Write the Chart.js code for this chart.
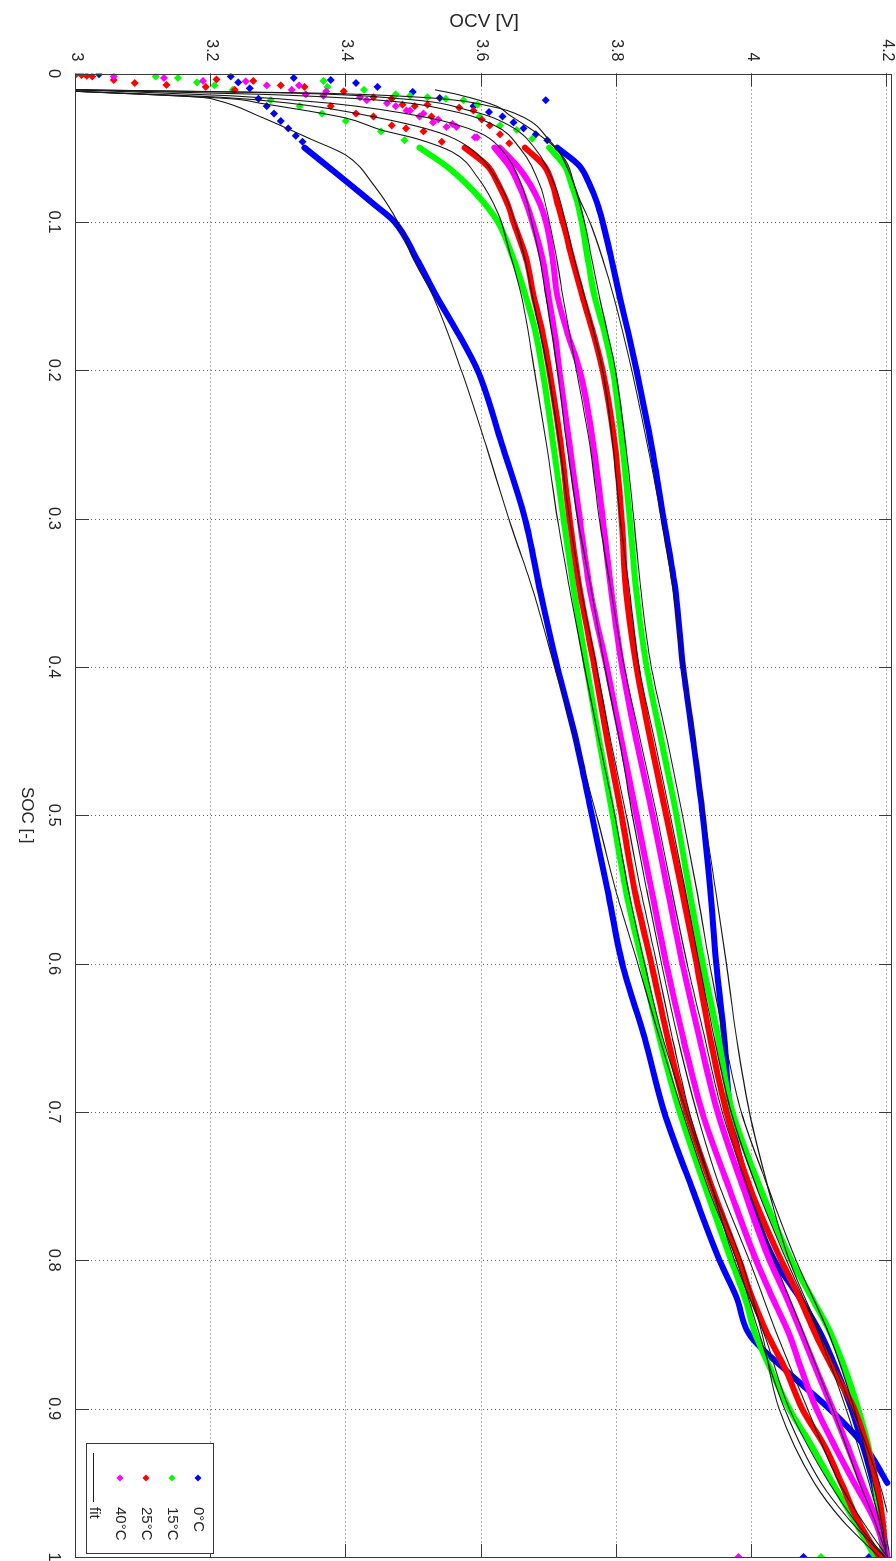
<!DOCTYPE html>
<html>
<head>
<meta charset="utf-8">
<title>OCV vs SOC</title>
<script src="https://cdn.jsdelivr.net/npm/chart.js@4.4.1/dist/chart.umd.min.js"></script>
<style>
  html, body { margin: 0; padding: 0; background: #fff; overflow: hidden; }
  #page { position: relative; width: 896px; height: 1561px; overflow: hidden; background: #fff; }
  /* the figure is drawn landscape (SOC along x) and turned a quarter clockwise */
  #ocvChart { position: absolute; left: 0; top: 0; transform-origin: 0 0; transform: translate(896px, 0) rotate(90deg); }
</style>
</head>
<body>
<div id="page"><canvas id="ocvChart" width="1561" height="896"></canvas></div>
<script>
// ---- axis ticks -----------------------------------------------------------
const socTicks = [0, 0.1, 0.2, 0.3, 0.4, 0.5, 0.6, 0.7, 0.8, 0.9, 1];
const ocvTicks = [3, 3.2, 3.4, 3.6, 3.8, 4, 4.2];

// ---- measured curves (dense part), common SOC grid -------------------------
const socGrid = [0.05, 0.0625, 0.075, 0.0875, 0.1, 0.125, 0.15, 0.175, 0.2, 0.25, 0.3, 0.35, 0.4, 0.45,
  0.5, 0.55, 0.6, 0.65, 0.7, 0.75, 0.8, 0.825, 0.85, 0.875, 0.9, 0.925, 0.95, 0.975, 1.0];

const ocv0Dis  = [3.338, 3.372, 3.406, 3.439, 3.471, 3.504, 3.533, 3.565, 3.594, 3.630, 3.664, 3.687, 3.712, 3.740,
  3.763, 3.786, 3.808, 3.841, 3.870, 3.910, 3.952, 3.977, 3.996, 4.052, 4.114, 4.166, 4.200, null, null];
const ocv0Chg  = [3.712, 3.745, 3.760, 3.771, 3.779, 3.792, 3.804, 3.817, 3.829, 3.851, 3.869, 3.887, 3.898, 3.913,
  3.927, 3.938, 3.947, 3.959, 3.968, 3.993, 4.033, 4.070, 4.102, 4.126, 4.147, 4.164, 4.179, 4.191, 4.200];
const ocv15Dis = [3.508, 3.548, 3.579, 3.604, 3.624, 3.647, 3.665, 3.680, 3.690, 3.706, 3.721, 3.737, 3.755, 3.774,
  3.794, 3.813, 3.838, 3.863, 3.893, 3.930, 3.969, 3.989, 4.005, 4.029, 4.055, 4.088, 4.119, 4.151, 4.182];
const ocv15Chg = [3.700, 3.723, 3.733, 3.742, 3.748, 3.757, 3.767, 3.782, 3.794, 3.808, 3.819, 3.829, 3.844, 3.866,
  3.888, 3.907, 3.927, 3.950, 3.971, 4.011, 4.058, 4.088, 4.117, 4.139, 4.157, 4.172, 4.182, 4.188, 4.194];
const ocv25Dis = [3.575, 3.609, 3.625, 3.638, 3.647, 3.666, 3.677, 3.690, 3.700, 3.717, 3.730, 3.746, 3.767, 3.786,
  3.807, 3.826, 3.851, 3.875, 3.903, 3.940, 3.981, 4.000, 4.023, 4.051, 4.074, 4.107, 4.132, 4.156, 4.188];
const ocv25Chg = [3.664, 3.693, 3.705, 3.712, 3.720, 3.734, 3.749, 3.765, 3.779, 3.797, 3.807, 3.814, 3.829, 3.850,
  3.873, 3.896, 3.918, 3.938, 3.962, 3.996, 4.043, 4.070, 4.094, 4.122, 4.151, 4.170, 4.184, 4.193, 4.197];
const ocv40Dis = [3.619, 3.641, 3.655, 3.666, 3.675, 3.690, 3.699, 3.708, 3.715, 3.730, 3.745, 3.761, 3.785, 3.807,
  3.829, 3.851, 3.873, 3.898, 3.926, 3.965, 4.006, 4.030, 4.055, 4.074, 4.095, 4.122, 4.151, 4.181, 4.200];
const ocv40Chg = [3.627, 3.653, 3.672, 3.686, 3.695, 3.705, 3.712, 3.727, 3.745, 3.765, 3.779, 3.792, 3.808, 3.829,
  3.853, 3.875, 3.897, 3.922, 3.949, 3.986, 4.026, 4.051, 4.074, 4.096, 4.119, 4.141, 4.162, 4.184, 4.200];

// ---- sparse markers near SOC 0 and the end points at SOC 1 ----------------
const soc0Pts  = [0.0005, 0.002, 0.006, 0.010, 0.017, 0.022, 0.027, 0.032, 0.037, 0.042, 0.046,
  0.003, 0.0044, 0.0064, 0.009, 0.0124, 0.0165, 0.018, 0.022, 0.026, 0.029, 0.033, 0.037, 0.041, 0.045, 1.0, 1.0];
const ocv0Pts  = [3.034, 3.229, 3.240, 3.257, 3.270, 3.282, 3.293, 3.303, 3.314, 3.325, 3.335,
  3.322, 3.377, 3.414, 3.446, 3.498, 3.538, 3.695, 3.588, 3.611, 3.631, 3.647, 3.662, 3.680, 3.697, 4.076, 4.173];
const soc15Pts = [0.002, 0.003, 0.006, 0.008, 0.011, 0.018, 0.022, 0.027, 0.032, 0.039, 0.045,
  0.005, 0.009, 0.011, 0.014, 0.015, 0.016, 0.017, 0.018, 0.021, 0.029, 0.035, 0.038, 0.044, 1.0];
const ocv15Pts = [3.118, 3.151, 3.179, 3.205, 3.232, 3.288, 3.331, 3.364, 3.399, 3.451, 3.486,
  3.366, 3.372, 3.426, 3.473, 3.494, 3.520, 3.547, 3.573, 3.594, 3.597, 3.627, 3.652, 3.675, 4.102];
const soc25Pts = [0.0005, 0.001, 0.0015, 0.002, 0.0044, 0.0064, 0.0077, 0.009, 0.011, 0.021, 0.022, 0.022, 0.027,
  0.029, 0.029, 0.035, 0.037, 0.039, 0.046,
  0.004, 0.005, 0.008, 0.009, 0.012, 0.016, 0.017, 0.021, 0.023, 0.025, 0.031, 0.035, 0.041, 0.047, 1.0];
const ocv25Pts = [3.000, 3.008, 3.016, 3.024, 3.056, 3.087, 3.134, 3.192, 3.235, 3.483, 3.501, 3.377, 3.414,
  3.440, 3.526, 3.467, 3.488, 3.514, 3.541,
  3.208, 3.262, 3.303, 3.338, 3.396, 3.440, 3.467, 3.520, 3.567, 3.588, 3.600, 3.612, 3.627, 3.641, 4.198];
const soc40Pts = [0.002, 0.003, 0.005, 0.0053, 0.008, 0.011, 0.014, 0.015, 0.018, 0.022, 0.025, 0.027, 0.031,
  0.034, 0.036, 0.043,
  0.008, 0.012, 0.016, 0.020, 0.025, 0.029, 0.033, 0.036, 0.043, 1.0];
const ocv40Pts = [3.056, 3.130, 3.188, 3.251, 3.282, 3.319, 3.340, 3.366, 3.430, 3.473, 3.494, 3.514, 3.536,
  3.557, 3.563, 3.593,
  3.330, 3.370, 3.420, 3.460, 3.489, 3.508, 3.528, 3.548, 3.590, 3.980];

// ---- fitted curves --------------------------------------------------------
const fitSoc0Dis = [0.012, 0.016, 0.018, 0.029, 0.044, 0.055, 0.075, 0.1, 0.125, 0.15, 0.2, 0.25, 0.3, 0.35,
  0.4, 0.45, 0.5, 0.55, 0.6, 0.65, 0.7, 0.75, 0.8, 0.85, 0.9, 0.95, 0.975, 1.0];
const fitOcv0Dis = [3.000, 3.183, 3.208, 3.272, 3.346, 3.399, 3.440, 3.476, 3.499, 3.528, 3.570, 3.606, 3.640, 3.677,
  3.708, 3.740, 3.770, 3.798, 3.831, 3.863, 3.897, 3.934, 3.977, 4.011, 4.048, 4.102, 4.144, 4.196];
const fitSoc15Dis = [0.012, 0.017, 0.02, 0.03, 0.038, 0.044, 0.053, 0.07, 0.095, 0.12, 0.15, 0.2, 0.25, 0.3, 0.35,
  0.4, 0.45, 0.5, 0.55, 0.6, 0.65, 0.7, 0.75, 0.8, 0.85, 0.9, 0.95, 0.975, 1.0];
const fitOcv15Dis = [3.000, 3.228, 3.272, 3.399, 3.451, 3.504, 3.557, 3.594, 3.625, 3.641, 3.659, 3.678, 3.696, 3.712,
  3.731, 3.752, 3.774, 3.797, 3.817, 3.841, 3.868, 3.903, 3.940, 3.984, 4.015, 4.040, 4.092, 4.133, 4.188];
const fitSoc25Dis = [0.012, 0.016, 0.02, 0.03, 0.04, 0.05, 0.075, 0.1, 0.125, 0.15, 0.2, 0.25, 0.3, 0.35,
  0.4, 0.45, 0.5, 0.55, 0.6, 0.65, 0.7, 0.75, 0.8, 0.85, 0.9, 0.95, 0.975, 1.0];
const fitOcv25Dis = [3.000, 3.213, 3.316, 3.449, 3.538, 3.582, 3.627, 3.649, 3.664, 3.675, 3.698, 3.715, 3.730, 3.748,
  3.770, 3.791, 3.814, 3.835, 3.859, 3.882, 3.907, 3.940, 3.974, 4.018, 4.055, 4.114, 4.151, 4.197];
const fitSoc40Dis = [0.011, 0.015, 0.02, 0.03, 0.04, 0.05, 0.075, 0.1, 0.125, 0.15, 0.2, 0.25, 0.3, 0.35,
  0.4, 0.45, 0.5, 0.55, 0.6, 0.65, 0.7, 0.75, 0.8, 0.85, 0.9, 0.95, 0.975, 1.0];
const fitOcv40Dis = [3.000, 3.228, 3.375, 3.523, 3.597, 3.627, 3.659, 3.674, 3.686, 3.695, 3.712, 3.726, 3.742, 3.763,
  3.782, 3.804, 3.823, 3.844, 3.866, 3.890, 3.918, 3.952, 3.996, 4.037, 4.082, 4.129, 4.162, 4.200];
const fitSoc40Chg = [0.011, 0.014, 0.018, 0.025, 0.035, 0.05, 0.075, 0.1, 0.125, 0.15, 0.2, 0.25, 0.3, 0.35,
  0.4, 0.45, 0.5, 0.55, 0.6, 0.65, 0.7, 0.75, 0.8, 0.85, 0.9, 0.95, 0.975, 1.0];
const fitOcv40Chg = [3.000, 3.272, 3.449, 3.553, 3.619, 3.656, 3.686, 3.700, 3.711, 3.720, 3.740, 3.760, 3.774, 3.792,
  3.811, 3.835, 3.859, 3.881, 3.904, 3.930, 3.956, 3.993, 4.033, 4.077, 4.119, 4.159, 4.181, 4.200];
const fitSoc25Chg = [0.011, 0.013, 0.017, 0.025, 0.035, 0.05, 0.075, 0.1, 0.125, 0.15, 0.2, 0.25, 0.3, 0.35,
  0.4, 0.45, 0.5, 0.55, 0.6, 0.65, 0.7, 0.75, 0.8, 0.85, 0.9, 0.95, 0.975, 1.0];
const fitOcv25Chg = [3.000, 3.301, 3.479, 3.582, 3.641, 3.678, 3.708, 3.724, 3.737, 3.752, 3.779, 3.794, 3.805, 3.819,
  3.833, 3.856, 3.879, 3.901, 3.922, 3.944, 3.969, 4.006, 4.051, 4.099, 4.139, 4.173, 4.188, 4.200];
const fitSoc15Chg = [0.011, 0.013, 0.016, 0.022, 0.03, 0.045, 0.06, 0.075, 0.1, 0.125, 0.15, 0.2, 0.25, 0.3, 0.35,
  0.4, 0.45, 0.5, 0.55, 0.6, 0.65, 0.7, 0.75, 0.8, 0.85, 0.9, 0.95, 0.975, 1.0];
const fitOcv15Chg = [3.000, 3.331, 3.508, 3.612, 3.664, 3.700, 3.726, 3.737, 3.752, 3.763, 3.774, 3.798, 3.813, 3.825,
  3.836, 3.851, 3.875, 3.897, 3.918, 3.937, 3.959, 3.984, 4.023, 4.065, 4.114, 4.151, 4.179, 4.191, 4.200];
const fitSoc0Chg = [0.011, 0.014, 0.022, 0.028, 0.04, 0.051, 0.067, 0.085, 0.1, 0.125, 0.15, 0.2, 0.25, 0.3, 0.35,
  0.4, 0.45, 0.5, 0.55, 0.6, 0.65, 0.7, 0.75, 0.8, 0.85, 0.9, 0.95, 0.97];
const fitOcv0Chg = [3.531, 3.563, 3.622, 3.641, 3.681, 3.711, 3.730, 3.745, 3.760, 3.779, 3.795, 3.822, 3.845, 3.866,
  3.884, 3.898, 3.915, 3.929, 3.946, 3.962, 3.977, 3.996, 4.023, 4.055, 4.102, 4.148, 4.188, 4.200];

const legendLabels = ['0°C', '15°C', '25°C', '40°C', 'fit'];

// ---------------------------------------------------------------------------
const FONT = "'Liberation Sans', Arial, sans-serif";
const TEXT = '#262626';

const temps = [
  { color: '#0000ff', dis: ocv0Dis,  chg: ocv0Chg,  soc: soc0Pts,  ocv: ocv0Pts,  order: 4 },
  { color: '#00ff00', dis: ocv15Dis, chg: ocv15Chg, soc: soc15Pts, ocv: ocv15Pts, order: 3 },
  { color: '#ff0000', dis: ocv25Dis, chg: ocv25Chg, soc: soc25Pts, ocv: ocv25Pts, order: 2 },
  { color: '#ff00ff', dis: ocv40Dis, chg: ocv40Chg, soc: soc40Pts, ocv: ocv40Pts, order: 1 }
];
const fits = [
  [fitSoc0Dis, fitOcv0Dis], [fitSoc15Dis, fitOcv15Dis], [fitSoc25Dis, fitOcv25Dis], [fitSoc40Dis, fitOcv40Dis],
  [fitSoc40Chg, fitOcv40Chg], [fitSoc25Chg, fitOcv25Chg], [fitSoc15Chg, fitOcv15Chg], [fitSoc0Chg, fitOcv0Chg]
];

const toPoints = (socs, ocvs) => socs.map((s, i) => ({ x: s, y: ocvs[i] }));
const fmt = (v) => String(Math.round(v * 10) / 10);

function band(ocvs, color, order) {
  return {
    data: toPoints(socGrid, ocvs),
    showLine: true,
    borderColor: color,
    borderWidth: 6,
    borderCapStyle: 'round',
    pointRadius: 0,
    cubicInterpolationMode: 'monotone',
    spanGaps: false,
    order
  };
}

const datasets = [];
temps.forEach((t) => {
  datasets.push(band(t.dis, t.color, t.order));
  datasets.push(band(t.chg, t.color, t.order));
  datasets.push({
    data: toPoints(t.soc, t.ocv),
    showLine: false,
    pointStyle: 'rectRot',
    pointRadius: 4,
    backgroundColor: t.color,
    borderColor: t.color,
    borderWidth: 0,
    order: t.order
  });
});
fits.forEach(([s, v]) => {
  datasets.push({
    data: toPoints(s, v),
    showLine: true,
    borderColor: '#1a1a1a',
    borderWidth: 1.1,
    pointRadius: 0,
    cubicInterpolationMode: 'monotone',
    order: 0
  });
});

// MATLAB-style axes: dotted grid under the data, box and inward ticks over it
const matlabAxes = {
  id: 'matlabAxes',
  beforeDatasetsDraw(chart) {
    const { ctx, chartArea: a, scales: { x, y } } = chart;
    ctx.save();
    ctx.strokeStyle = '#666';
    ctx.lineWidth = 1;
    ctx.setLineDash([1, 3]);
    ctx.beginPath();
    socTicks.forEach((v) => {
      const px = Math.round(x.getPixelForValue(v)) + 0.5;
      ctx.moveTo(px, a.top); ctx.lineTo(px, a.bottom);
    });
    ocvTicks.forEach((v) => {
      const py = Math.round(y.getPixelForValue(v)) + 0.5;
      ctx.moveTo(a.left, py); ctx.lineTo(a.right, py);
    });
    ctx.stroke();
    ctx.restore();
  },
  afterDatasetsDraw(chart) {
    const { ctx, chartArea: a, scales: { x, y } } = chart;
    const len = 13;
    ctx.save();
    ctx.strokeStyle = '#3a3a3a';
    ctx.lineWidth = 1;
    ctx.beginPath();
    socTicks.forEach((v) => {
      const px = Math.round(x.getPixelForValue(v)) + 0.5;
      ctx.moveTo(px, a.bottom); ctx.lineTo(px, a.bottom - len);
      ctx.moveTo(px, a.top); ctx.lineTo(px, a.top + len);
    });
    ocvTicks.forEach((v) => {
      const py = Math.round(y.getPixelForValue(v)) + 0.5;
      ctx.moveTo(a.left, py); ctx.lineTo(a.left + len, py);
      ctx.moveTo(a.right, py); ctx.lineTo(a.right - len, py);
    });
    ctx.stroke();
    ctx.strokeRect(Math.round(a.left) + 0.5, Math.round(a.top) + 0.5,
      Math.round(a.right - a.left) - 1, Math.round(a.bottom - a.top));
    ctx.restore();
  },
  afterDraw(chart) {
    // legend box, bottom-right inside the axes (before turning the figure)
    const { ctx } = chart;
    const bx = 1443, by = 682, bw = 110, bh = 127, rowH = 26, firstRow = 698;
    ctx.save();
    ctx.fillStyle = '#fff';
    ctx.fillRect(bx, by, bw, bh);
    ctx.strokeStyle = '#3a3a3a';
    ctx.lineWidth = 1;
    ctx.strokeRect(bx + 0.5, by + 0.5, bw, bh);
    ctx.font = `15px ${FONT}`;
    ctx.textBaseline = 'middle';
    ctx.textAlign = 'left';
    legendLabels.forEach((label, i) => {
      const ry = firstRow + i * rowH;
      if (i < temps.length) {
        ctx.fillStyle = temps[i].color;
        ctx.beginPath();
        ctx.moveTo(1478, ry - 3.5); ctx.lineTo(1481.5, ry); ctx.lineTo(1478, ry + 3.5); ctx.lineTo(1474.5, ry);
        ctx.closePath();
        ctx.fill();
      } else {
        ctx.strokeStyle = '#1a1a1a';
        ctx.beginPath();
        ctx.moveTo(1453, ry + 0.5); ctx.lineTo(1502, ry + 0.5);
        ctx.stroke();
      }
      ctx.fillStyle = TEXT;
      ctx.fillText(label, 1507, ry);
    });
    ctx.restore();
  }
};

new Chart(document.getElementById('ocvChart'), {
  type: 'scatter',
  data: { datasets },
  options: {
    responsive: false,
    devicePixelRatio: 1,
    animation: false,
    events: [],
    layout: { padding: { top: 3, right: 0.5, left: 0, bottom: 0 } },
    plugins: { legend: { display: false }, tooltip: { enabled: false } },
    scales: {
      x: {
        type: 'linear',
        position: 'bottom',
        min: 0,
        max: 1,
        afterBuildTicks: (s) => { s.ticks = socTicks.map((v) => ({ value: v })); },
        afterFit: (s) => { s.height = 76; s.paddingLeft = 0; s.paddingRight = 0; },
        grid: { display: false, drawTicks: false },
        border: { display: false },
        ticks: { autoSkip: false, maxRotation: 0, padding: 13, color: TEXT, font: { family: FONT, size: 16.5 }, callback: fmt },
        title: { display: true, text: 'SOC [-]', color: TEXT, font: { family: FONT, size: 17 }, padding: { top: 0, bottom: 16 } }
      },
      y: {
        type: 'linear',
        position: 'left',
        min: 3,
        max: 4.207,
        afterBuildTicks: (s) => { s.ticks = ocvTicks.map((v) => ({ value: v })); },
        afterFit: (s) => { s.width = 73.5; s.paddingTop = 0; s.paddingBottom = 0; },
        grid: { display: false, drawTicks: false },
        border: { display: false },
        ticks: { padding: 12, color: TEXT, font: { family: FONT, size: 16 }, callback: fmt },
        title: { display: true, text: 'OCV [V]', color: TEXT, font: { family: FONT, size: 19 }, padding: { top: 10, bottom: 0 } }
      }
    }
  },
  plugins: [matlabAxes]
});
</script>
</body>
</html>
